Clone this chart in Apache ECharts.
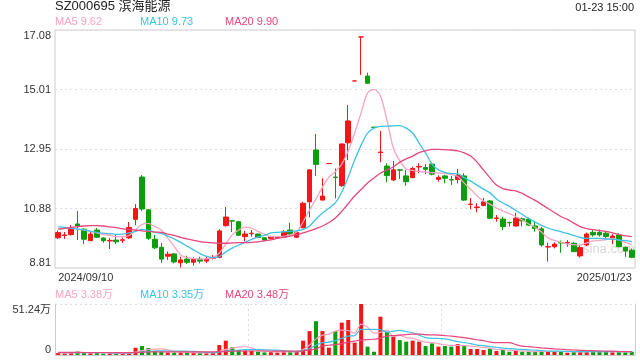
<!DOCTYPE html>
<html><head><meta charset="utf-8">
<script src="https://cdn.jsdelivr.net/npm/echarts@6/dist/echarts.min.js"></script>
<style>html,body{margin:0;padding:0;background:#fff}#c{width:640px;height:360px}</style>
</head><body><div id="c"></div>
<script>
const stockTitle = 'SZ000695 滨海能源';
const timeText = '01-23 15:00';
const dates = [
'2024/09/10','2024/09/11','2024/09/12','2024/09/13','2024/09/18','2024/09/19','2024/09/20','2024/09/23','2024/09/24','2024/09/25','2024/09/26','2024/09/27','2024/09/30',
'2024/10/08','2024/10/09','2024/10/10','2024/10/11','2024/10/14','2024/10/15','2024/10/16','2024/10/17','2024/10/18','2024/10/21','2024/10/22','2024/10/23','2024/10/24','2024/10/25','2024/10/28','2024/10/29','2024/10/30','2024/10/31',
'2024/11/01','2024/11/04','2024/11/05','2024/11/06','2024/11/07','2024/11/08','2024/11/11','2024/11/12','2024/11/13','2024/11/14','2024/11/15','2024/11/18','2024/11/19','2024/11/20','2024/11/21','2024/11/22','2024/11/25','2024/11/26','2024/11/27','2024/11/28','2024/11/29',
'2024/12/02','2024/12/03','2024/12/04','2024/12/05','2024/12/06','2024/12/09','2024/12/10','2024/12/11','2024/12/12','2024/12/13','2024/12/16','2024/12/17','2024/12/18','2024/12/19','2024/12/20','2024/12/23','2024/12/24','2024/12/25','2024/12/26','2024/12/27','2024/12/30','2024/12/31',
'2025/01/02','2025/01/03','2025/01/06','2025/01/07','2025/01/08','2025/01/09','2025/01/10','2025/01/13','2025/01/14','2025/01/15','2025/01/16','2025/01/17','2025/01/20','2025/01/21','2025/01/22','2025/01/23'
];
// [open, close, low, high]
const candles = [
[9.86,10.04,9.82,10.11],[9.94,9.96,9.82,10.06],[9.97,10.21,9.94,10.30],[10.34,10.27,9.78,10.79],[10.16,9.81,9.64,10.19],
[9.76,9.99,9.75,10.06],[10.13,9.88,9.86,10.20],[9.85,9.76,9.69,9.88],[9.75,9.77,9.47,9.85],[9.78,9.72,9.64,9.99],
[9.77,9.79,9.68,9.87],[9.86,10.22,9.82,10.41],[10.50,10.88,10.30,11.03],[11.97,10.86,10.79,12.04],[10.83,9.84,9.78,10.86],
[9.81,9.51,9.47,9.96],[9.53,9.12,8.99,9.68],[9.22,9.29,9.09,9.38],[9.30,9.02,8.97,9.33],[8.99,9.09,8.83,9.20],
[9.12,9.01,8.95,9.24],[9.01,9.11,8.90,9.18],[9.12,9.05,8.97,9.20],[9.05,9.12,8.98,9.19],[9.15,9.17,9.11,9.26],
[9.18,10.10,9.15,10.16],[10.28,10.58,10.25,10.93],[10.45,10.44,10.06,10.46],[10.42,9.95,9.93,10.45],[9.90,9.99,9.74,10.10],
[10.00,10.02,9.90,10.13],[9.99,9.87,9.85,10.01],[9.86,9.78,9.75,9.88],[9.84,9.90,9.80,9.93],[9.87,9.88,9.83,9.92],
[9.88,10.07,9.86,10.13],[10.13,9.99,9.90,10.38],[9.88,10.05,9.85,10.08],[10.21,11.06,10.19,11.11],[11.11,12.22,10.57,12.24],
[12.91,12.41,12.01,13.47],[11.17,11.31,11.16,11.93],[12.44,12.44,12.44,12.44],[11.97,11.95,11.23,12.27],[11.67,13.12,11.63,13.14],
[13.16,13.92,12.56,14.47],[15.31,15.31,15.31,15.31],[16.84,16.84,15.52,16.84],[15.48,15.23,15.22,15.60],[13.70,13.70,13.70,13.70],
[12.82,12.84,12.49,13.57],[12.35,12.02,11.79,12.45],[11.87,12.22,11.83,12.53],[12.22,12.21,11.90,12.25],[12.01,11.81,11.67,12.22],
[11.95,12.27,11.93,12.33],[12.32,12.34,12.10,12.45],[12.30,12.24,12.07,12.42],[12.42,12.07,12.03,12.48],[11.89,11.96,11.81,12.03],
[12.01,11.93,11.75,12.05],[11.88,11.87,11.69,12.01],[11.89,12.04,11.75,12.25],[12.01,11.17,11.14,12.10],[11.02,11.03,10.85,11.24],
[10.91,10.93,10.75,11.06],[10.98,11.11,10.96,11.24],[11.14,10.54,10.51,11.17],[10.53,10.55,10.42,10.65],[10.51,10.25,10.13,10.59],
[10.39,10.38,10.25,10.42],[10.27,10.54,10.25,10.73],[10.52,10.45,10.25,10.56],[10.51,10.30,10.27,10.56],[10.27,10.18,10.07,10.42],
[10.17,9.61,9.55,10.24],[9.54,9.55,9.03,9.69],[9.55,9.64,9.49,9.70],[9.69,9.68,9.34,9.76],[9.68,9.70,9.55,9.78],
[9.67,9.38,9.36,9.72],[9.23,9.52,9.17,9.61],[9.61,9.99,9.57,10.04],[10.05,9.96,9.90,10.13],[10.05,9.96,9.90,10.15],
[10.02,9.90,9.84,10.07],[9.82,9.92,9.64,9.99],[9.96,9.55,9.53,10.02],[9.53,9.40,9.20,9.55],[9.43,9.18,9.15,9.49]
];
const ma5 = [10.16,10.18,10.21,10.16,10.13,10.08,10.03,9.97,9.94,9.90,
9.90,9.94,10.13,10.32,10.36,10.25,10.13,9.85,9.56,9.26,
9.17,9.14,9.12,9.13,9.16,9.33,9.64,9.96,10.13,10.23,
10.20,10.08,9.99,9.90,9.90,9.91,9.96,10.06,10.41,10.83,
11.21,11.62,11.97,12.16,12.42,12.88,13.50,14.20,14.89,15.02,
14.79,13.95,12.98,12.53,12.25,12.20,12.16,12.15,12.12,12.11,
12.10,12.06,11.99,11.76,11.55,11.31,11.14,11.03,10.89,10.79,
10.70,10.60,10.48,10.34,10.22,10.06,9.85,9.77,9.70,9.64,
9.62,9.61,9.68,9.75,9.77,9.80,9.84,9.78,9.70,9.62];
const ma10 = [10.25,10.22,10.19,10.16,10.13,10.09,10.05,10.02,10.00,9.98,
9.99,10.03,10.08,10.15,10.12,10.06,10.01,9.92,9.82,9.70,
9.57,9.44,9.31,9.21,9.17,9.21,9.37,9.50,9.61,9.71,
9.80,9.89,9.94,10.03,10.05,10.07,10.09,10.10,10.15,10.27,
10.51,10.72,10.89,11.07,11.45,11.97,12.56,13.08,13.50,13.67,
13.73,13.74,13.75,13.76,13.67,13.50,13.15,12.81,12.42,12.22,
12.13,12.09,12.08,11.95,11.83,11.69,11.55,11.42,11.21,11.07,
10.95,10.81,10.67,10.53,10.41,10.29,10.20,10.13,10.07,10.01,
9.94,9.87,9.84,9.84,9.84,9.82,9.81,9.78,9.76,9.73];
const ma20 = [10.16,10.19,10.22,10.25,10.27,10.28,10.28,10.27,10.24,10.21,
10.17,10.15,10.13,10.10,10.08,10.06,10.05,9.99,9.94,9.87,
9.82,9.77,9.73,9.70,9.68,9.67,9.67,9.68,9.69,9.69,
9.70,9.72,9.75,9.79,9.84,9.88,9.92,9.96,10.03,10.10,
10.18,10.27,10.39,10.55,10.78,11.05,11.31,11.54,11.76,11.94,
12.11,12.22,12.32,12.49,12.60,12.70,12.82,12.88,12.93,12.93,
12.92,12.91,12.88,12.81,12.70,12.49,12.21,11.94,11.69,11.57,
11.52,11.49,11.40,11.28,11.16,11.02,10.88,10.74,10.60,10.50,
10.37,10.25,10.18,10.14,10.11,10.08,10.03,9.97,9.93,9.90];
// volume, unit 万
const volumes = [2.0,1.6,2.2,3.5,2.6,1.8,2.0,1.5,1.8,1.5,
1.4,2.6,7.3,9.0,7.0,4.0,3.3,2.5,2.4,2.6,
2.0,2.0,2.0,1.9,2.4,10.0,14.4,7.7,5.0,4.3,
4.3,3.3,2.6,2.8,2.5,3.6,4.2,3.6,14.4,24.0,
34.0,24.0,7.4,24.0,32.5,35.2,12.4,51.24,8.4,3.3,
38.5,23.4,18.4,15.0,13.4,14.4,13.4,9.0,11.7,8.4,
9.0,8.4,11.0,10.0,6.0,6.0,5.0,6.7,4.0,5.0,
3.3,4.0,3.3,3.3,3.3,4.0,4.0,3.3,3.3,2.3,
3.3,3.3,4.0,3.3,3.3,3.3,2.7,3.3,3.0,3.3];
const vma5 = [2.3,2.2,2.1,2.3,2.4,2.3,2.3,2.2,2.0,1.8,1.6,1.8,
2.9,4.4,5.5,6.0,6.1,5.2,3.8,3.0,2.6,2.3,2.2,2.2,2.2,
3.7,5.7,6.8,7.9,8.3,7.1,4.9,3.9,3.5,3.2,3.0,3.2,3.4,
5.6,10.0,16.2,20.0,21.0,24.0,25.0,24.6,22.0,31.0,28.0,22.0,22.8,25.0,18.6,19.7,17.5,17.0,14.5,13.0,12.4,11.4,10.3,9.7,9.7,9.4,8.9,8.3,7.6,6.7,5.5,5.3,4.8,4.6,4.1,3.8,3.4,3.6,3.6,3.6,3.5,3.4,3.2,3.1,3.2,3.3,3.4,3.4,3.3,3.2,3.2,3.38];
const vma10 = [2.4,2.4,2.3,2.3,2.3,2.3,2.3,2.3,2.2,2.1,2.0,2.0,
2.3,3.0,3.7,4.0,4.2,4.0,3.9,4.0,3.8,3.6,3.1,2.7,2.4,
3.0,4.0,4.5,5.0,5.3,5.3,5.3,5.2,5.0,4.9,4.3,3.5,3.4,
4.5,6.5,9.8,12.4,13.0,14.5,16.8,19.0,19.5,25.8,25.7,25.7,25.5,23.0,24.0,24.8,23.5,22.4,20.0,17.5,16.8,16.8,16.2,15.0,13.4,12.5,11.5,10.0,9.5,8.5,7.7,7.0,6.4,6.0,5.6,5.2,4.8,4.4,4.0,3.9,3.8,3.6,3.5,3.4,3.4,3.4,3.3,3.3,3.3,3.3,3.3,3.35];
const vma20 = [2.6,2.6,2.6,2.6,2.5,2.5,2.5,2.5,2.5,2.4,2.4,2.4,2.6,2.8,3.0,3.1,3.2,3.2,3.2,3.2,
3.2,3.2,3.2,3.2,3.2,3.3,3.6,3.8,3.9,4.0,4.0,4.0,4.0,4.0,3.9,3.9,3.9,3.9,
4.2,5.0,6.2,9.0,9.8,10.5,11.5,13.0,14.0,15.0,15.5,15.8,17.0,19.0,19.5,20.0,20.5,21.0,21.0,20.5,20.2,20.0,19.5,19.0,18.3,17.5,16.5,15.3,14.5,13.0,12.4,12.4,12.4,10.5,9.0,8.4,7.8,7.2,6.7,6.2,5.8,5.3,5.0,4.7,4.5,4.3,4.1,3.9,3.8,3.6,3.5,3.48];
const priceTicks = ['8.81','10.88','12.95','15.01','17.08'];
const volTicks = ['0','51.24万'];

const UP = '#f41515', DOWN = '#0a9e0a';
const C5 = '#f7a3c1', C10 = '#3ec3e2', C20 = '#e8467c';
const FONT = '"Liberation Sans", Arial, "Noto Sans CJK SC", sans-serif';
const pMin = +priceTicks[0], pMax = +priceTicks[priceTicks.length - 1];
const vMax = parseFloat(volTicks[1]);

function isUp(i) {
  const c = candles[i];
  if (c[1] > c[0]) return true;
  if (c[1] < c[0]) return false;
  return i === 0 ? true : c[1] >= candles[i - 1][1];
}
const volData = volumes.map((v, i) => ({ value: v, itemStyle: { color: isUp(i) ? UP : DOWN } }));

function edgeLabel(list) {
  return function (v, i) {
    const t = list[i];
    if (t === undefined) return '';
    if (i === 0) return '{b|' + t + '}';
    if (i === list.length - 1) return '{t|' + t + '}';
    return t;
  };
}
const richEdge = {
  t: { padding: [11, 0, 0, 0], fontSize: 11, color: '#333', fontFamily: FONT },
  b: { padding: [0, 0, 11, 0], fontSize: 11, color: '#333', fontFamily: FONT }
};
const dotted = { color: '#ddd', type: [2, 3], width: 1 };
const N = dates.length;

const chart = echarts.init(document.getElementById('c'), null, { renderer: 'canvas' });
const last = a => a[a.length - 1].toFixed(2);
chart.setOption({
  animation: false,
  backgroundColor: '#fff',
  textStyle: { fontFamily: FONT },
  grid: [
    { left: 55, right: 5, top: 30, height: 238, show: true, borderColor: '#ccc', borderWidth: 1 },
    { left: 55, right: 5, top: 304, height: 51 }
  ],
  xAxis: [
    { type: 'category', gridIndex: 0, data: dates, boundaryGap: true,
      axisLine: { show: false }, axisTick: { show: false }, splitLine: { show: false },
      axisLabel: { interval: (i) => i === 0 || i === N - 1, color: '#333', fontSize: 11, margin: 4,
        alignMinLabel: 'left', alignMaxLabel: 'right', showMinLabel: true, showMaxLabel: true } },
    { type: 'category', gridIndex: 1, data: dates, boundaryGap: true,
      axisLine: { show: true, lineStyle: { color: '#ccc' } }, axisTick: { show: false },
      axisLabel: { show: false },
      splitLine: { show: true, interval: (i) => i === 30 || i === 60, lineStyle: dotted } }
  ],
  yAxis: [
    { type: 'value', gridIndex: 0, min: pMin, max: pMax, interval: (pMax - pMin) / (priceTicks.length - 1), scale: true,
      axisLine: { show: false }, axisTick: { show: false },
      splitLine: { show: true, lineStyle: dotted },
      axisLabel: { formatter: edgeLabel(priceTicks), rich: richEdge, color: '#333', fontSize: 11, margin: 4 } },
    { type: 'value', gridIndex: 1, min: 0, max: vMax, interval: vMax,
      axisLine: { show: true, lineStyle: { color: '#ccc' } }, axisTick: { show: false },
      splitLine: { show: true, lineStyle: dotted },
      axisLabel: { formatter: edgeLabel(volTicks), rich: richEdge, color: '#333', fontSize: 11, margin: 4 } },
    { type: 'value', gridIndex: 1, position: 'right', min: 0, max: vMax, interval: vMax,
      axisLine: { show: true, lineStyle: { color: '#ccc' } }, axisTick: { show: false },
      splitLine: { show: false }, axisLabel: { show: false } }
  ],
  series: [
    { type: 'candlestick', xAxisIndex: 0, yAxisIndex: 0, data: candles, barWidth: 5,
      itemStyle: { color: UP, color0: DOWN, borderColor: UP, borderColor0: DOWN, borderWidth: 1 } },
    { type: 'line', xAxisIndex: 0, yAxisIndex: 0, data: ma5, smooth: 0.3, showSymbol: false, lineStyle: { color: C5, width: 1.3 } },
    { type: 'line', xAxisIndex: 0, yAxisIndex: 0, data: ma10, smooth: 0.3, showSymbol: false, lineStyle: { color: C10, width: 1.3 } },
    { type: 'line', xAxisIndex: 0, yAxisIndex: 0, data: ma20, smooth: 0.3, showSymbol: false, lineStyle: { color: C20, width: 1.3 } },
    { type: 'bar', xAxisIndex: 1, yAxisIndex: 1, data: volData, barWidth: 4 },
    { type: 'line', xAxisIndex: 1, yAxisIndex: 1, data: vma5, smooth: 0.3, showSymbol: false, lineStyle: { color: C5, width: 1.2 } },
    { type: 'line', xAxisIndex: 1, yAxisIndex: 1, data: vma10, smooth: 0.3, showSymbol: false, lineStyle: { color: C10, width: 1.2 } },
    { type: 'line', xAxisIndex: 1, yAxisIndex: 1, data: vma20, smooth: 0.3, showSymbol: false, lineStyle: { color: C20, width: 1.2 } }
  ],
  graphic: [
    { type: 'text', left: 55, top: 0, style: { text: stockTitle, fill: '#222', font: '13px ' + FONT } },
    { type: 'text', right: 6, top: 2, style: { text: timeText, fill: '#222', font: '11px ' + FONT } },
    { type: 'text', left: 55, top: 16, style: { text: 'MA5 ' + last(ma5), fill: C5, font: '11px ' + FONT } },
    { type: 'text', left: 140, top: 16, style: { text: 'MA10 ' + last(ma10), fill: C10, font: '11px ' + FONT } },
    { type: 'text', left: 225, top: 16, style: { text: 'MA20 ' + last(ma20), fill: C20, font: '11px ' + FONT } },
    { type: 'text', left: 55, top: 289, style: { text: 'MA5 ' + last(vma5) + '万', fill: C5, font: '11px ' + FONT } },
    { type: 'text', left: 140, top: 289, style: { text: 'MA10 ' + last(vma10) + '万', fill: C10, font: '11px ' + FONT } },
    { type: 'text', left: 225, top: 289, style: { text: 'MA20 ' + last(vma20) + '万', fill: C20, font: '11px ' + FONT } },
    { type: 'text', left: 583, top: 243, z: -1, style: { text: 'sina.com', fill: '#d6d6d6', font: '13px ' + FONT } }
  ]
});
</script>
</body></html>
